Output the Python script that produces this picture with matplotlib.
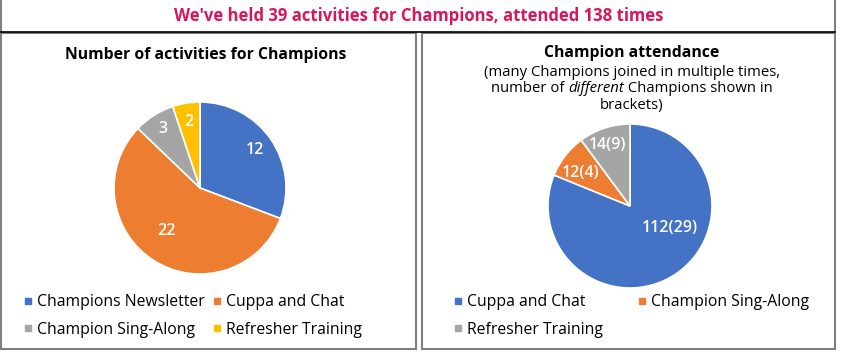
import matplotlib
matplotlib.use("Agg")
import matplotlib.pyplot as plt
from matplotlib.patches import Rectangle
from matplotlib.lines import Line2D
import numpy as np

plt.rcParams['font.family'] = ['Open Sans', 'DejaVu Sans']
plt.rcParams['font.weight'] = 500

# data
main_title = "We've held 39 activities for Champions, attended 138 times"

act_labels = ["Champions Newsletter", "Cuppa and Chat", "Champion Sing-Along", "Refresher Training"]
act_values = [12, 22, 3, 2]
act_colors = ["#4472C4", "#ED7D31", "#A5A5A5", "#FFC000"]

att_labels = ["Cuppa and Chat", "Champion Sing-Along", "Refresher Training"]
att_values = [112, 12, 14]
att_unique = [29, 4, 9]
att_colors = ["#4472C4", "#ED7D31", "#A5A5A5"]

W, H = 841, 352
fig = plt.figure(figsize=(W / 100, H / 100), dpi=100)

def fx(px):
    return px / W

def fy(py):
    return 1 - py / H

# boxes round the title and the two panels
edge = "#7F7F7F"
fig.add_artist(Line2D([fx(1), fx(1)], [fy(0), fy(33)], color=edge, lw=1.5))
fig.add_artist(Line2D([fx(835), fx(835)], [fy(0), fy(33)], color=edge, lw=1.5))
fig.add_artist(Line2D([fx(0), fx(835)], [fy(32), fy(32)], color="black", lw=1.2))
for x0, x1 in [(1, 416), (422, 835)]:
    fig.add_artist(Rectangle((fx(x0), fy(349)), fx(x1 - x0), (349 - 33) / H,
                             fill=False, edgecolor=edge, lw=1.5))

fig.text(fx(419), fy(16), main_title, ha="center", va="center",
         fontsize=12, fontweight="bold", color="#D6175E")


def pie_axes(cx, cy, r):
    return fig.add_axes([fx(cx - r), fy(cy + r), 2 * r / W, 2 * r / H])


def put_labels(ax, wedges, texts, spots):
    # spots: (radius fraction, angle shift in degrees) per slice
    for w, t, (rf, shift) in zip(wedges, texts, spots):
        ang = np.deg2rad((w.theta1 + w.theta2) / 2 + shift)
        ax.text(rf * np.cos(ang), rf * np.sin(ang), t, ha="center", va="center",
                color="white", fontsize=11.5, fontweight=600)


def finish(ax):
    ax.set_xlim(-1, 1)
    ax.set_ylim(-1, 1)
    ax.axis("off")


# left pie
ax1 = pie_axes(200, 188, 86)
w1, _ = ax1.pie(act_values, colors=act_colors, startangle=90, counterclock=False,
                radius=1, wedgeprops=dict(edgecolor="white", linewidth=1.2))
put_labels(ax1, w1, [str(v) for v in act_values],
           [(0.78, 0), (0.63, -6), (0.81, 0), (0.78, 0)])
finish(ax1)

fig.text(fx(206), fy(55), "Number of activities for Champions", ha="center", va="center",
         fontsize=11.3, fontweight="bold", color="black")

# right pie
ax2 = pie_axes(630, 206, 82)
w2, _ = ax2.pie(att_values, colors=att_colors, startangle=90, counterclock=False,
                radius=1, wedgeprops=dict(edgecolor="white", linewidth=1.2))
put_labels(ax2, w2, [f"{v}({u})" for v, u in zip(att_values, att_unique)],
           [(0.55, 27), (0.72, 4), (0.79, 2)])
finish(ax2)

fig.text(fx(632), fy(53), "Champion attendance", ha="center", va="center",
         fontsize=11.3, fontweight="bold", color="black")
fig.text(fx(632), fy(72), "(many Champions joined in multiple times,", ha="center",
         va="center", fontsize=10.7, color="black")
fig.text(fx(632), fy(105), "brackets)", ha="center", va="center", fontsize=10.7, color="black")

# line with the italic word, built from three pieces
parts = [("number of ", "normal"), ("different", "italic"), (" Champions shown in", "normal")]
pieces = [fig.text(0, fy(89), s, ha="left", va="center", fontsize=10.7, style=st, color="black")
          for s, st in parts]
fig.canvas.draw()
rend = fig.canvas.get_renderer()
widths = [p.get_window_extent(rend).width for p in pieces]
x = 632 - sum(widths) / 2
for p, wd in zip(pieces, widths):
    p.set_x(fx(x))
    x += wd

# legends, filled row by row
def square(c):
    return Line2D([], [], marker="s", linestyle="", markersize=4.5, color=c)

order1 = [0, 2, 1, 3]
fig.legend([square(act_colors[i]) for i in order1], [act_labels[i] for i in order1],
           ncol=2, frameon=False, loc="upper left", bbox_to_anchor=(fx(24), fy(294)),
           fontsize=11.3, handlelength=0.55, handletextpad=0.3, columnspacing=0.5,
           labelspacing=0.75, borderaxespad=0, borderpad=0)
order2 = [0, 2, 1]
fig.legend([square(att_colors[i]) for i in order2], [att_labels[i] for i in order2],
           ncol=2, frameon=False, loc="upper left", bbox_to_anchor=(fx(454), fy(294)),
           fontsize=11.3, handlelength=0.55, handletextpad=0.3, columnspacing=2.2,
           labelspacing=0.75, borderaxespad=0, borderpad=0)

fig.savefig("out.png", dpi=100)
